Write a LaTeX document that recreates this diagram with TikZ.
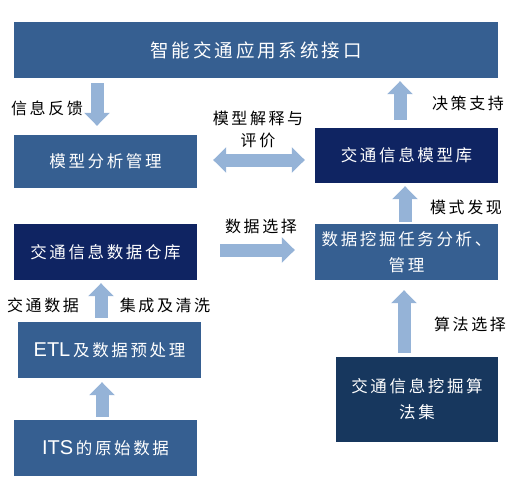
\documentclass[tikz,border=0pt]{standalone}
\usepackage{fontspec}
\setmainfont{Liberation Sans}
\newfontfamily\cjk[LetterSpace=16]{Noto Sans CJK SC}
\newfontfamily\lat{Liberation Sans}
\usetikzlibrary{arrows.meta,calc}
\definecolor{midblue}{RGB}{54,95,145}
\definecolor{navy}{RGB}{15,36,98}
\definecolor{algblue}{RGB}{23,55,94}
\definecolor{arrowc}{RGB}{149,179,215}
\tikzset{
  box/.style={fill=#1, draw=none, text=white, inner sep=0pt, align=center, font=\cjk\fontsize{16.5}{26}\selectfont},
  lbl/.style={text=black, inner sep=0pt, align=center, font=\cjk\fontsize{16}{22}\selectfont},
  fat/.style={draw=arrowc, line width=13pt, -{Triangle[length=13pt,width=25pt]}},
  fatboth/.style={draw=arrowc, line width=13pt, {Triangle[length=13pt,width=25pt]}-{Triangle[length=13pt,width=25pt]}}
}
\begin{document}
\begin{tikzpicture}[x=1pt,y=-1pt]
\useasboundingbox (0,0) rectangle (520,498);
\node[box=midblue, minimum width=484pt, minimum height=56pt, font=\cjk\fontsize{18.5}{22}\selectfont] (top) at (256,50) {智能交通应用系统接口};
\node[box=midblue, minimum width=183pt, minimum height=53pt] (mfa) at (105.5,161.5) {模型分析管理};
\node[box=navy, minimum width=183pt, minimum height=55pt] (mdb) at (406.5,155.5) {交通信息模型库};
\node[box=navy, minimum width=183pt, minimum height=56pt] (dw) at (105.5,252) {交通信息数据仓库};
\node[box=midblue, minimum width=183pt, minimum height=56pt] (dm) at (406.5,252) {数据挖掘任务分析、\\管理};
\node[box=midblue, minimum width=183pt, minimum height=56pt] (etl) at (109.5,350) {{\lat\fontsize{20}{22}\selectfont ETL}\,及数据预处理};
\node[box=midblue, minimum width=183pt, minimum height=56pt] (its) at (105.5,448) {{\lat\fontsize{20}{22}\selectfont ITS}\,的原始数据};
\node[box=algblue, minimum width=162pt, minimum height=85pt] (alg) at (417,399.5) {交通信息挖掘算\\法集};
% arrows
\draw[fat] ($(mfa.north |- top.south)+(-8.5,5)$) -- ($(mfa.north)+(-8.5,-9)$);
\draw[fat] ($(mdb.north)+(-6.5,-8)$) -- ($(mdb.north |- top.south)+(-6.5,3)$);
\draw[fat] ($(dm.north)+(-1.5,-2)$) -- ($(mdb.south)+(-1.5,3)$);
\draw[fat] ($(alg.north)+(-13,-4)$) -- ($(alg.north |- dm.south)+(-13,10)$);
\draw[fat] ($(etl.north)+(-8.5,-4)$) -- ($(etl.north |- dw.south)+(-8.5,3)$);
\draw[fat] ($(its.north)+(-3.5,-3)$) -- ($(its.north |- etl.south)+(-3.5,4)$);
\draw[fatboth] ($(mfa.east)+(16,-1.5)$) -- ($(mfa.east -| mdb.west)+(-10,-1.5)$);
\draw[fat] ($(dw.east)+(23,-2)$) -- ($(dw.east -| dm.west)+(-20,-2)$);
% labels
\node[lbl] (l1) at (47,108) {信息反馈};
\node[lbl] (l2) at (258,129) {模型解释与\\评价};
\node[lbl] (l3) at (468,103) {决策支持};
\node[lbl] (l4) at (466,207) {模式发现};
\node[lbl] (l5) at (261,226) {数据选择};
\node[lbl] (l6) at (43,305) {交通数据};
\node[lbl] (l7) at (165,305) {集成及清洗};
\node[lbl] (l8) at (470,324) {算法选择};
\end{tikzpicture}
\end{document}
